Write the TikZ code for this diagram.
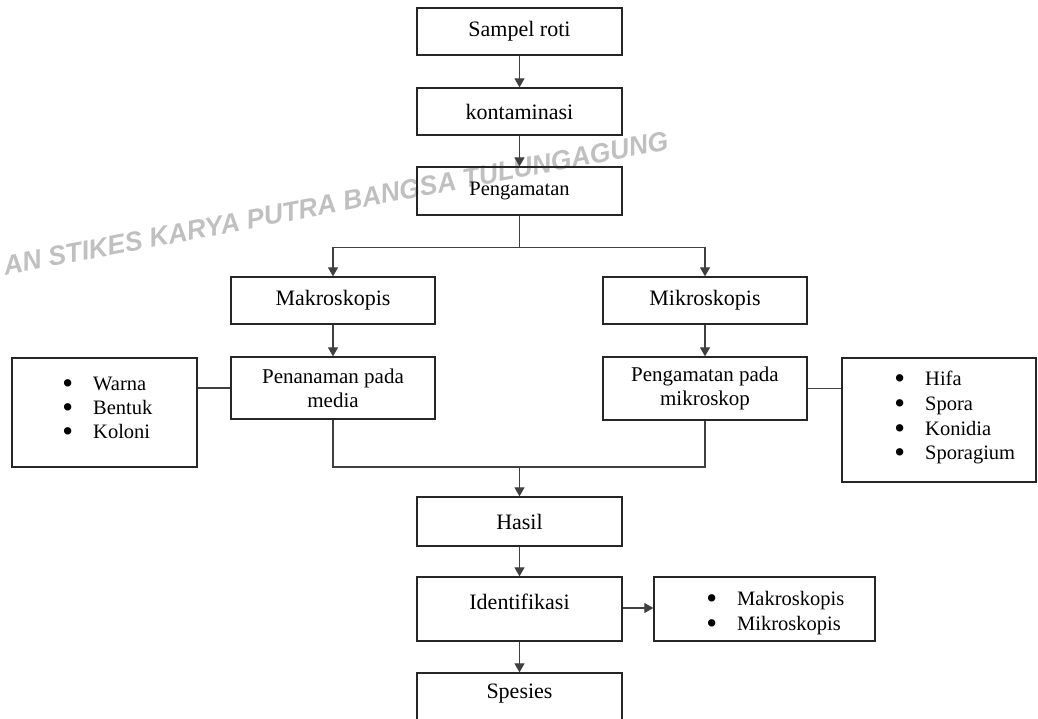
\documentclass[tikz,border=0pt]{standalone}
\usepackage{graphicx}
\usepackage{fontspec}
\setmainfont{Liberation Serif}
\newfontfamily\wmfont{Liberation Sans}
\usetikzlibrary{arrows.meta}
\definecolor{wmgray}{HTML}{C0C0C0}
\newcommand{\wmline}{\resizebox{676pt}{19pt}{\wmfont\bfseries\itshape AN STIKES KARYA PUTRA BANGSA TULUNGAGUNG}}
\newcommand{\bul}{\llap{\raisebox{-3pt}{\scalebox{1.5}{\textbullet}}\hspace{20pt}}}
\tikzset{
  box/.style={draw=black!85, line width=1.3pt, minimum width=205pt, inner sep=0pt, align=center, font=\fontsize{22}{24}\selectfont},
  twobox/.style={box, font=\fontsize{21}{24}\selectfont},
  item/.style={anchor=base west, inner sep=0pt, font=\fontsize{20.5}{24}\selectfont},
  conn/.style={draw=black!75, line width=1.2pt},
  arr/.style={conn, -{Triangle[width=10pt,length=9pt]}},
  wm/.style={text=wmgray, inner sep=0pt, rotate=10.7}
}
\begin{document}
\begin{tikzpicture}[x=1pt,y=-1pt]
\path[use as bounding box] (0,0) rectangle (1038,719);
\begin{scope}
\clip (0,0) rectangle (1038,719);
% watermark
\node[wm, anchor=south east] (wmA) at (670,150) {\wmline};

% main column
\node[box, minimum height=47pt] (sampel) at (519.5,31.5) {Sampel roti};
\node[box, minimum height=47pt] (konta) at (519.5,111.5) {kontaminasi};
\node[box, minimum height=48pt, font=\fontsize{20.5}{24}\selectfont] (peng) at (519.5,191) {Pengamatan};

\node[box, minimum width=204pt, minimum height=47pt] (makro) at (333,300.5) {Makroskopis};
\node[box, minimum width=204pt, minimum height=47pt] (mikro) at (705,300.5) {Mikroskopis};

\node[twobox, minimum width=204pt, minimum height=62pt] (tanam) at (333,388) {Penanaman pada\\media};
\node[twobox, minimum width=204pt, minimum height=63pt] (pmikro) at (705,388.5) {Pengamatan pada\\mikroskop};

\node[box, minimum width=185pt, minimum height=109pt] (warna) at (104.5,412.5) {};
\node[box, minimum width=194pt, minimum height=124pt] (hifa) at (939,420) {};

\node[box, minimum height=49pt] (hasil) at (519.5,521.5) {Hasil};
\node[box, minimum height=64pt] (ident) at (519.5,609) {\raisebox{14pt}{Identifikasi}};
\node[box, minimum width=221pt, minimum height=64pt] (ilist) at (764.5,609) {};
\node[box, minimum height=80pt] (spes) at (519.5,713) {};
\node[anchor=base, inner sep=0pt, font=\fontsize{22}{24}\selectfont] (spestext) at (519.5,698) {Spesies};

% lists
\node[item] (w1) at (93,390) {\bul Warna};
\node[item] (w2) at (93,414) {\bul Bentuk};
\node[item] (w3) at (93,438) {\bul Koloni};

\node[item] (h1) at (925,385) {\bul Hifa};
\node[item] (h2) at (925,410) {\bul Spora};
\node[item] (h3) at (925,435) {\bul Konidia};
\node[item] (h4) at (925,459) {\bul Sporagium};

\node[item] (i1) at (737,605) {\bul Makroskopis};
\node[item] (i2) at (737,630) {\bul Mikroskopis};

% connectors
\draw[arr] (sampel) -- (konta);
\draw[arr] (konta) -- (peng);
\draw[conn] (peng.south) -- ++(0,32) coordinate (split);
\draw[arr] (split) -| (makro.north);
\draw[arr] (split) -| (mikro.north);
\draw[arr] (makro) -- (tanam);
\draw[arr] (mikro) -- (pmikro);
\draw[conn] (tanam.west) -- (tanam.west -| warna.east);
\draw[conn] (pmikro.east) -- (pmikro.east -| hifa.west);
\coordinate (merge) at (519.5,467);
\draw[conn] (tanam.south) |- (merge) -| (pmikro.south);
\draw[arr] (merge) -- (hasil.north);
\draw[arr] (hasil) -- (ident);
\draw[arr] (ident) -- (spes.north);
\draw[arr] (ident.east) ++(0,-1) coordinate (ie) -- (ie -| ilist.west);
\end{scope}
\end{tikzpicture}
\end{document}
